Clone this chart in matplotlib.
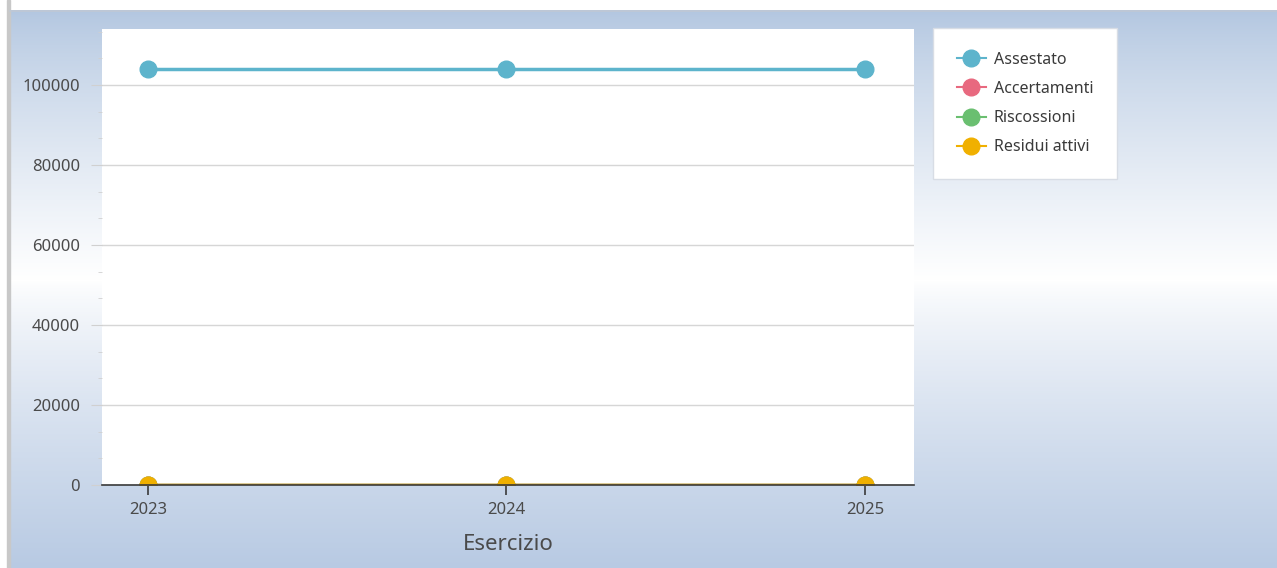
import numpy as np
import matplotlib
matplotlib.use('Agg')
import matplotlib.pyplot as plt
from matplotlib.ticker import MultipleLocator

# data
years = [2023, 2024, 2025]
assestato = [104000, 104000, 104000]
accertamenti = [0, 0, 0]
riscossioni = [0, 0, 0]
residui_attivi = [0, 0, 0]

series_names = ['Assestato', 'Accertamenti', 'Riscossioni', 'Residui attivi']
series_colors = ['#5db4cc', '#e8697f', '#6abf70', '#f0b000']

plt.rcParams['font.family'] = ['Noto Sans', 'DejaVu Sans']

fig = plt.figure(figsize=(12.77, 5.68), dpi=100)

# background gradient (blue top/bottom, white around middle)
bg = fig.add_axes([0, 0, 1, 1], zorder=-10)
bg.set_axis_off()
h = 568
top_col = np.array([178, 198, 224]) / 255
bot_col = np.array([184, 202, 227]) / 255
white = np.array([1.0, 1.0, 1.0])
img = np.zeros((h, 1, 3))
for i in range(h):
    if i < 280:
        t = max((i - 10) / 270, 0) ** 0.8
        img[i, 0] = top_col + (white - top_col) * t
    else:
        t = ((i - 280) / 288) ** 0.8
        img[i, 0] = white + (bot_col - white) * t
img[:10, 0] = [1, 1, 1]
bg.imshow(img, aspect='auto', extent=[0, 1, 0, 1], origin='upper', zorder=0)
bg.set_xlim(0, 1)
bg.set_ylim(0, 1)
bg.axvspan(0, 7 / 1277, color='white', zorder=1)
bg.axvspan(7 / 1277, 10 / 1277, color='#c8c8c8', zorder=2)
bg.axhline(1 - 10.5 / 568, xmin=10 / 1277, color='#c0c8d4', lw=1.2, zorder=2)

ax = fig.add_axes([102 / 1277, 1 - 485 / 568, (914 - 102) / 1277, (485 - 29) / 568])
ax.set_facecolor('white')

data = [assestato, accertamenti, riscossioni, residui_attivi]
for name, vals, col in zip(series_names, data, series_colors):
    ax.plot(years, vals, color=col, lw=2.5, marker='o', markersize=12,
            label=name, zorder=3)

ax.set_xlim(2022.872, 2025.137)
ax.set_ylim(0, 114000)
ax.set_xticks(years)
ax.set_xticklabels([str(y) for y in years])
ax.yaxis.set_major_locator(MultipleLocator(20000))
ax.yaxis.set_minor_locator(MultipleLocator(20000 / 3))
ax.grid(axis='y', color='#d6d6d6', lw=1)
ax.set_axisbelow(True)

for s in ['top', 'right', 'left']:
    ax.spines[s].set_visible(False)
ax.spines['bottom'].set_color('#3a3a3a')
ax.spines['bottom'].set_linewidth(1.2)
ax.spines['bottom'].set_zorder(4)

ax.tick_params(axis='y', which='major', length=8, color='#d0d0d0', labelsize=12,
               labelcolor='#4a4a4a', pad=8)
ax.tick_params(axis='y', which='minor', length=3, color='#d0d0d0')
ax.tick_params(axis='x', length=7, width=1.2, color='#3a3a3a', labelsize=12,
               labelcolor='#4a4a4a', pad=5)
ax.set_xlabel('Esercizio', fontsize=16, color='#4a4a4a', labelpad=12)

leg = fig.legend(loc='upper left', bbox_to_anchor=(933 / 1277, 1 - 28 / 568),
                 frameon=True, fontsize=11.5, labelcolor='#3a3a3a',
                 handlelength=1.8, borderpad=1.5, labelspacing=0.82,
                 handletextpad=0.5, fancybox=False, borderaxespad=0,
                 framealpha=1)
leg.get_frame().set_edgecolor('#d8dde5')
leg.get_frame().set_facecolor('white')
leg.get_frame().set_linewidth(1)
for line in leg.get_lines():
    line.set_linewidth(1.5)

fig.savefig('out.png', dpi=100)
